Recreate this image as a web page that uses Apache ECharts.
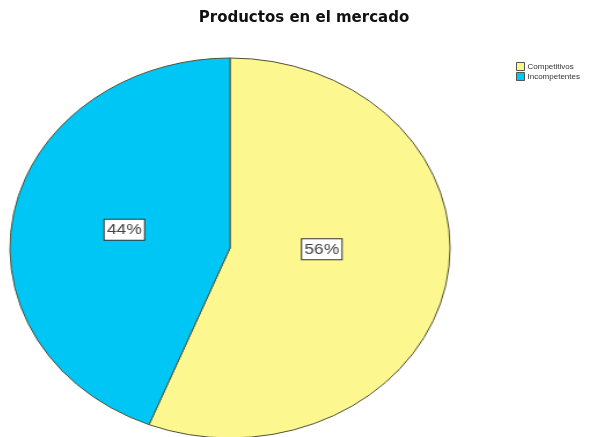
<!DOCTYPE html>
<html>
<head>
<meta charset="utf-8">
<script src="https://cdn.jsdelivr.net/npm/echarts@6/dist/echarts.min.js"></script>
<style>
  html, body { margin: 0; padding: 0; background: #fff; }
  #wrap { position: relative; width: 608px; height: 437px; overflow: hidden; }
  /* the pie layer is widened horizontally so the disc reads as an ellipse */
  #pie { position: absolute; left: 0; top: 0; width: 608px; height: 437px;
         transform: scaleX(1.158); transform-origin: 230px 248px; }
  #frame { position: absolute; left: 0; top: 0; width: 608px; height: 437px; }
</style>
</head>
<body>
<div id="wrap">
  <div id="pie"></div>
  <div id="frame"></div>
</div>
<script>
// Data
const titleText = 'Productos en el mercado';
const categories = ['Competitivos', 'Incompetentes'];
const shares = [56, 44];
const colors = ['#fcf78f', '#00c6f5'];

// label nudges per slice (pie-layer units)
const labelOffsets = [[-17, -17], [5, 0]];

const sliceData = categories.map((name, i) => ({
  name: name,
  value: shares[i],
  itemStyle: { color: colors[i] },
  label: { offset: labelOffsets[i] }
}));

// Pie layer
const pieChart = echarts.init(document.getElementById('pie'), null, { renderer: 'canvas' });
pieChart.setOption({
  animation: false,
  series: [{
    type: 'pie',
    center: [230, 248],
    radius: 190,
    startAngle: 90,
    clockwise: true,
    silent: true,
    itemStyle: { borderColor: '#50503a', borderWidth: 1 },
    label: {
      show: true,
      position: 'inside',
      formatter: p => p.value + '%',
      fontFamily: 'Liberation Sans',
      fontSize: 15,
      color: '#444',
      backgroundColor: '#fff',
      borderColor: '#333',
      borderWidth: 1,
      padding: [3, 2, 2, 2]
    },
    labelLine: { show: false },
    data: sliceData
  }]
});

// Title and legend layer
const frameChart = echarts.init(document.getElementById('frame'), null, { renderer: 'canvas' });
frameChart.setOption({
  animation: false,
  title: {
    text: titleText,
    left: 'center',
    top: 11,
    padding: 0,
    textStyle: { fontFamily: 'DejaVu Sans', fontWeight: 'bold', fontSize: 15, color: '#111' }
  },
  legend: {
    orient: 'vertical',
    left: 516,
    top: 62,
    padding: 0,
    itemWidth: 8,
    itemHeight: 8,
    itemGap: 1,
    icon: 'rect',
    itemStyle: { borderColor: '#555', borderWidth: 1 },
    textStyle: { fontFamily: 'Liberation Sans', fontSize: 8, color: '#333', padding: [0, 0, 0, -2] },
    data: categories
  },
  series: [{
    type: 'pie',
    radius: 0,
    center: [-50, -50],
    silent: true,
    label: { show: false },
    labelLine: { show: false },
    itemStyle: { borderWidth: 0 },
    data: sliceData.map(d => ({ name: d.name, value: d.value, itemStyle: d.itemStyle }))
  }]
});
</script>
</body>
</html>
